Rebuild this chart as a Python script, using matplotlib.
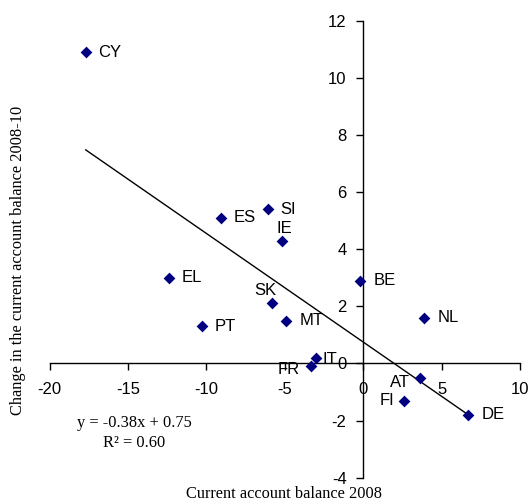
import matplotlib
matplotlib.use("Agg")
import matplotlib.pyplot as plt
import numpy as np

plt.rcParams["axes.unicode_minus"] = False

# Euro-area countries: current account balance 2008 vs change 2008-10 (% of GDP)
countries = ["CY", "ES", "SI", "IE", "EL", "PT", "SK", "MT", "IT", "FR",
             "BE", "NL", "AT", "FI", "DE"]
ca_2008 = [-17.7, -9.1, -6.1, -5.2, -12.4, -10.3, -5.8, -4.9, -3.0, -3.3,
           -0.2, 3.9, 3.6, 2.6, 6.7]
ca_change = [10.9, 5.1, 5.4, 4.3, 3.0, 1.3, 2.1, 1.5, 0.2, -0.1,
             2.9, 1.6, -0.5, -1.3, -1.8]

# label offsets in pixels (dx, dy) and horizontal alignment
label_pos = {
    "CY": (12, 0, "left"), "ES": (13, 0, "left"), "SI": (13, 0, "left"),
    "IE": (-5, 12, "left"), "EL": (13, 0, "left"), "PT": (13, 0, "left"),
    "SK": (-7, 13, "center"), "MT": (13, 0, "left"), "IT": (6, -2, "left"),
    "FR": (-12, -3, "right"), "BE": (14, 0, "left"), "NL": (13, 0, "left"),
    "AT": (-10, -5, "right"), "FI": (-10, 0, "right"), "DE": (13, 0, "left"),
}

slope, intercept, r2 = -0.38, 0.75, 0.60

fig = plt.figure(figsize=(5.30, 5.01), dpi=100)
ax = fig.add_axes([0.0938, 0.0465, 0.981 - 0.0938, 0.9587 - 0.0465])

ax.set_xlim(-20, 10)
ax.set_ylim(-4, 12)

ax.spines["left"].set_position(("data", 0))
ax.spines["bottom"].set_position(("data", 0))
ax.spines["right"].set_visible(False)
ax.spines["top"].set_visible(False)
for s in ("left", "bottom"):
    ax.spines[s].set_linewidth(1.0)

ax.set_xticks(np.arange(-20, 11, 5))
ax.set_yticks(np.arange(-4, 13, 2))
sans = "Liberation Sans"
ax.tick_params(axis="both", direction="out", length=5, width=1,
               labelsize=12, colors="black")
for lbl in ax.get_xticklabels() + ax.get_yticklabels():
    lbl.set_fontfamily(sans)
ax.tick_params(axis="x", pad=8.5)
ax.tick_params(axis="y", pad=7)

ax.scatter(ca_2008, ca_change, marker="D", s=36, color="#000080", zorder=3,
           linewidths=0)

# linear trend
xs = np.array([min(ca_2008), max(ca_2008)])
ax.plot(xs, slope * xs + intercept, color="black", lw=1.0, zorder=2)

for c, x, y in zip(countries, ca_2008, ca_change):
    dx, dy, ha = label_pos[c]
    ax.annotate(c, (x, y), xytext=(dx, dy), textcoords="offset pixels",
                ha=ha, va="center", fontsize=12, family=sans)

serif = "Liberation Serif"
fig.text(134 / 530, 1 - 422.7 / 501, f"y = {slope:.2f}x + {intercept:.2f}",
         ha="center", va="center", fontsize=11.8, family=serif)
fig.text(134 / 530, 1 - 442.7 / 501, f"R\u00b2 = {r2:.2f}",
         ha="center", va="center", fontsize=11.8, family=serif)

fig.text(18 / 530, 1 - 260 / 501, "Change in the current account balance 2008-10",
         rotation=90, ha="center", va="center", fontsize=11.8, family=serif)
fig.text(284 / 530, 1 - 497.5 / 501, "Current account balance 2008",
         ha="center", va="baseline", fontsize=11.8, family=serif)

fig.savefig("out.png", dpi=100)
